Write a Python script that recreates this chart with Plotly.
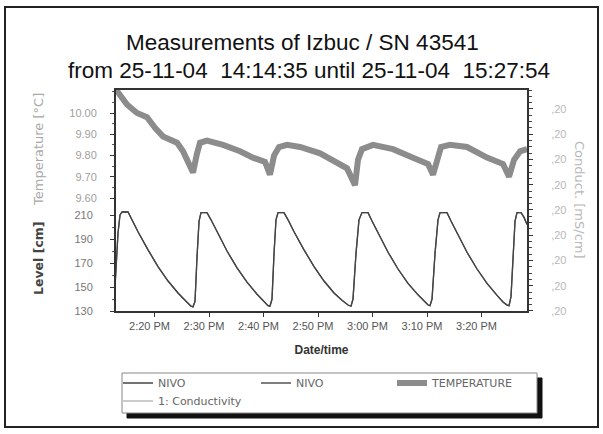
import pandas as pd
import plotly.graph_objects as go

# ---------------- data ----------------
base_time = "2004-11-25 14:00:00"

# Level (NIVO), minutes after 14:00 and level in cm
level_min = [12.75, 12.94, 13.30, 13.67, 14.04, 15.14, 15.87, 16.97, 18.81, 20.64, 22.48, 24.31, 25.60, 26.70, 27.06,
             27.43, 27.80, 28.17, 28.53, 29.63,
             30.37, 31.47, 33.30, 35.14, 36.97, 38.81, 40.09, 40.83, 41.19,
             41.56, 41.93, 42.29, 42.66, 43.76,
             44.50, 45.60, 47.43, 49.27, 51.10, 52.94, 54.40, 55.51, 56.06,
             56.42, 56.97, 57.52, 58.07, 59.18,
             59.91, 61.01, 62.85, 64.68, 66.51, 68.35, 69.45, 70.19, 70.55,
             70.92, 71.47, 72.02, 72.39, 73.67,
             74.40, 75.51, 77.34, 79.18, 81.01, 82.85, 83.95, 84.68, 85.05,
             85.41, 85.78, 86.15, 86.51, 87.25, 87.80, 88.35]
level_cm = [150, 165, 195, 210, 212.5, 212.5, 206, 196, 181, 167, 155, 145, 139, 134, 133.5,
            138, 175, 205, 212, 212,
            206, 196, 180, 166, 154, 144, 138, 134.5, 134,
            140, 178, 206, 212, 212,
            206, 196, 181, 167, 155, 145, 139, 135, 134,
            140, 178, 206, 212, 212,
            205, 195, 179, 165, 153, 143.5, 138, 135, 134.5,
            140, 178, 206, 212, 212,
            205, 195, 179, 165, 153, 143, 137.5, 135, 134.5,
            142, 178, 205, 212, 212, 208, 202]

# Temperature, minutes after 14:00 and degrees C
temp_min = [12.94, 13.67, 14.95, 16.79, 18.62, 20.09, 21.56, 24.13, 25.23, 26.15,
            27.06, 27.80, 28.35, 29.63, 32.57, 35.69, 38.07, 40.28, 41.19, 41.93,
            42.84, 44.31, 46.70, 50.37, 52.75, 55.32, 56.24, 56.79, 57.34, 58.07,
            60.09, 63.76, 67.43, 70.19, 71.10, 71.84, 72.57, 74.22, 77.34, 81.01,
            83.95, 85.05, 85.97, 87.07, 88.35]
temp_c = [10.11, 10.08, 10.04, 10.00, 9.98, 9.93, 9.89, 9.86, 9.82, 9.77,
          9.72, 9.81, 9.86, 9.87, 9.85, 9.82, 9.79, 9.77, 9.71, 9.80,
          9.84, 9.85, 9.84, 9.81, 9.78, 9.74, 9.69, 9.66, 9.78, 9.83,
          9.85, 9.83, 9.79, 9.76, 9.71, 9.79, 9.84, 9.85, 9.84, 9.79,
          9.76, 9.70, 9.78, 9.82, 9.83]

# Conductivity: listed in legend, no visible values in the plot
cond_min = [12.75]
cond_values = [None]

# axis ticks
x_range_min = [12.75, 88.53]
x_tick_min = [20, 30, 40, 50, 60, 70, 80]
x_tick_labels = ["2:20 PM", "2:30 PM", "2:40 PM", "2:50 PM", "3:00 PM", "3:10 PM", "3:20 PM"]
temp_ticks = [9.60, 9.70, 9.80, 9.90, 10.00]
temp_range = [9.5624, 10.113]
level_ticks = [130, 150, 170, 190, 210]
level_range = [129.2, 217.5]
cond_ticks = [0.196, 0.197, 0.198, 0.199, 0.200, 0.201, 0.202, 0.203, 0.204]
cond_tick_labels = [",20", ",20", ",20", ",20", ",20", ",20", ",20", ",20", ",20"]
cond_range = [0.19596, 0.20479]

title_1 = "Measurements of Izbuc / SN 43541"
title_2 = "from 25-11-04  14:14:35 until 25-11-04  15:27:54"


def to_time(minutes):
    return list(pd.Timestamp(base_time) + pd.to_timedelta(minutes, unit="m"))


# ---------------- layout geometry (pixels) ----------------
W, H = 603, 434
L, R, T, B = 115, 75, 89, 122
PW, PH = W - L - R, H - T - B


def px(xp):
    return (xp - L) / PW


def py(yp):
    return (H - B - yp) / PH


split = py(206)

fig = go.Figure()

fig.add_trace(go.Scatter(x=to_time(level_min), y=level_cm, mode="lines", name="NIVO",
                         line=dict(color="#555555", width=1.3), yaxis="y", legend="legend2"))
fig.add_trace(go.Scatter(x=to_time(level_min), y=level_cm, mode="lines", name="NIVO",
                         line=dict(color="#444444", width=1.3), yaxis="y", legend="legend"))
fig.add_trace(go.Scatter(x=to_time(temp_min), y=temp_c, mode="lines", name="TEMPERATURE",
                         line=dict(color="#8c8c8c", width=6), yaxis="y2", legend="legend3"))
fig.add_trace(go.Scatter(x=to_time(cond_min), y=cond_values, mode="lines", name="1: Conductivity",
                         line=dict(color="#cccccc", width=2), yaxis="y3", legend="legend4",
                         showlegend=True))

fig.update_layout(
    width=W, height=H,
    margin=dict(l=L, r=R, t=T, b=B),
    paper_bgcolor="white", plot_bgcolor="rgba(0,0,0,0)",
    xaxis=dict(
        type="date",
        range=to_time(x_range_min),
        tickvals=to_time(x_tick_min), ticktext=x_tick_labels,
        ticks="outside", ticklen=4, tickcolor="#333", tickwidth=1,
        showgrid=False, zeroline=False, showline=False,
        tickfont=dict(family="Liberation Sans, Arial", size=11, color="#555555"),
        ticklabelshift=-5,
        title=dict(text="<b>Date/time</b>", font=dict(family="Liberation Sans, Arial", size=12, color="#333333"),
                   standoff=14),
        anchor="y",
    ),
    yaxis=dict(
        domain=[0, split], range=level_range,
        tickvals=level_ticks, ticks="outside", ticklen=4, tickcolor="#333",
        minor=dict(dtick=10, ticks="outside", ticklen=2, tickcolor="#555"),
        showgrid=False, zeroline=False, showline=False,
        tickfont=dict(family="Liberation Sans, Arial", size=11, color="#777777"),
        ticklabelstandoff=15,
        anchor="x",
    ),
    yaxis2=dict(
        domain=[split, 1], range=temp_range,
        tickvals=temp_ticks, tickformat=".2f", ticks="outside", ticklen=4, tickcolor="#333",
        minor=dict(dtick=0.05, ticks="outside", ticklen=2, tickcolor="#555"),
        showgrid=False, zeroline=False, showline=False,
        tickfont=dict(family="Liberation Sans, Arial", size=11, color="#a0a0a0"),
        ticklabelstandoff=11,
        anchor="x",
    ),
    yaxis3=dict(
        domain=[0, 1], range=cond_range, side="right", anchor="x",
        tickvals=cond_ticks, ticktext=cond_tick_labels, ticks="outside", ticklen=4, tickcolor="#333",
        minor=dict(dtick=0.00025, ticks="outside", ticklen=3, tickcolor="#444"),
        showgrid=False, zeroline=False, showline=False,
        tickfont=dict(family="Liberation Sans, Arial", size=11, color="#b8b8b8"),
        ticklabelstandoff=16,
    ),
    showlegend=True,
)

leg_common = dict(xanchor="left", yanchor="middle", bgcolor="rgba(0,0,0,0)", borderwidth=0,
                  font=dict(family="DejaVu Sans", size=11, color="#666666"), itemwidth=30,
                  orientation="h")
fig.update_layout(
    legend=dict(x=px(118), y=py(383), **leg_common),
    legend2=dict(x=px(256), y=py(383), **leg_common),
    legend3=dict(x=px(392), y=py(383), **leg_common),
    legend4=dict(x=px(118), y=py(401), **leg_common),
)

shapes = [
    # outer frame
    dict(type="rect", xref="paper", yref="paper", x0=px(5), x1=px(598), y0=py(427), y1=py(7),
         line=dict(color="#222222", width=2), fillcolor="rgba(0,0,0,0)", layer="below"),
    # plot frame
    dict(type="rect", xref="paper", yref="paper", x0=0, x1=1, y0=0, y1=1,
         line=dict(color="#333333", width=2), fillcolor="rgba(0,0,0,0)", layer="above"),
    # legend shadow
    dict(type="rect", xref="paper", yref="paper", x0=px(127), x1=px(542), y0=py(418), y1=py(378),
         line=dict(color="#111111", width=1), fillcolor="#111111", layer="below"),
    # legend box
    dict(type="rect", xref="paper", yref="paper", x0=px(122), x1=px(537), y0=py(413), y1=py(373),
         line=dict(color="#888888", width=1), fillcolor="white", layer="below"),
]
fig.update_layout(shapes=shapes)

title_font = dict(family="Liberation Sans, Arial", size=22.5, color="#111111")
annotations = [
    dict(text=title_1, x=px(302), y=py(42), xref="paper", yref="paper", showarrow=False,
         xanchor="center", yanchor="middle", font=title_font),
    dict(text=title_2, x=px(309), y=py(70), xref="paper", yref="paper", showarrow=False,
         xanchor="center", yanchor="middle", font=title_font),
    dict(text="Temperature [°C]", x=px(38), y=py(150), xref="paper", yref="paper", showarrow=False,
         textangle=-90, xanchor="center", yanchor="middle",
         font=dict(family="DejaVu Sans", size=13, color="#a8a8a8")),
    dict(text="<b>Level [cm]</b>", x=px(38), y=py(258), xref="paper", yref="paper", showarrow=False,
         textangle=-90, xanchor="center", yanchor="middle",
         font=dict(family="DejaVu Sans", size=12.5, color="#444444")),
    dict(text="Conduct. [mS/cm]", x=px(580), y=py(200), xref="paper", yref="paper", showarrow=False,
         textangle=90, xanchor="center", yanchor="middle",
         font=dict(family="DejaVu Sans", size=13, color="#b8b8b8")),
]
fig.update_layout(annotations=annotations)

fig.write_html("out.html")
